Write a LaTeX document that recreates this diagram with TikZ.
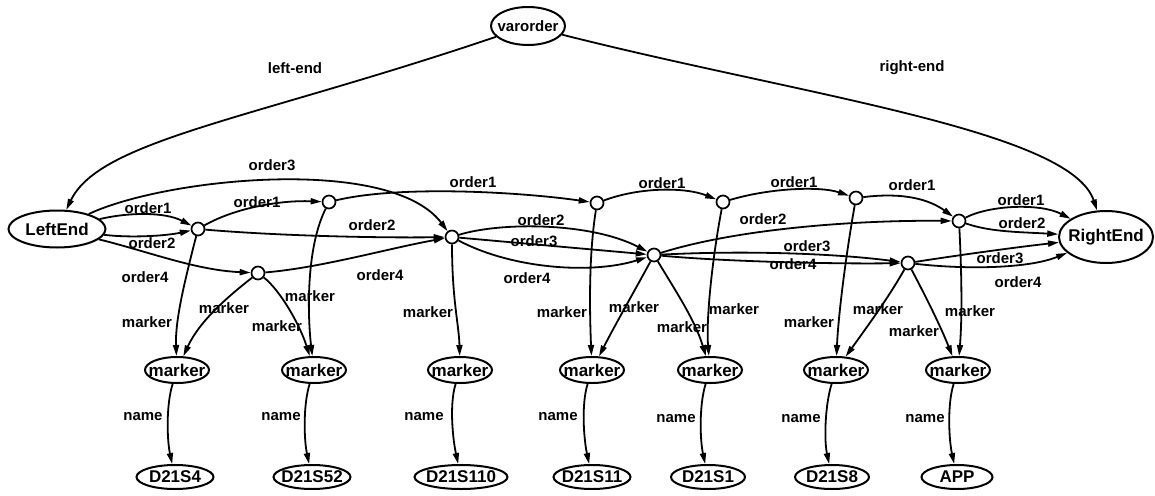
\documentclass[tikz,border=0pt]{standalone}
\usepackage{fontspec}
\setmainfont{Liberation Sans}
\usetikzlibrary{shapes.geometric,arrows.meta}
\newcommand\zbox[1]{\makebox[0pt]{#1}}
\begin{document}
\begin{tikzpicture}[x=1pt,y=-1pt,
  ent/.style={ellipse,draw,line width=2pt,inner sep=0pt,
    font=\bfseries\fontsize{17}{17}\selectfont},
  mk/.style={ent,minimum width=64pt,minimum height=26pt},
  leaf/.style={ent,minimum height=24pt},
  pt/.style={circle,draw,line width=1.7pt,minimum size=13pt,inner sep=0pt},
  lbl/.style={inner sep=0pt,font=\bfseries\fontsize{15}{15}\selectfont},
  arc/.style={line width=1.8pt,-{Triangle[length=11pt,width=6pt]}},
]
\useasboundingbox (0,0) rectangle (1155,495);

% entity nodes
\node[ent,minimum width=74pt,minimum height=38pt,font=\bfseries\fontsize{15}{15}\selectfont] (vo) at (528,26) {\zbox{varorder}};
\node[ent,minimum width=97pt,minimum height=37pt] (le) at (57,229) {\zbox{LeftEnd}};
\node[ent,minimum width=94pt,minimum height=52pt] (re) at (1106,237) {\zbox{RightEnd}};

% ordering points
\node[pt] (c1) at (198,229) {};
\node[pt] (c2) at (329,202) {};
\node[pt] (c3) at (258,273) {};
\node[pt] (c4) at (452,237) {};
\node[pt] (c5) at (597,203) {};
\node[pt] (c6) at (654,255) {};
\node[pt] (c7) at (723,202) {};
\node[pt] (c8) at (856,198) {};
\node[pt] (c9) at (959,221) {};
\node[pt] (c10) at (908,263) {};

% markers
\node[mk] (m1) at (177,370) {\zbox{marker}};
\node[mk] (m2) at (314,370) {\zbox{marker}};
\node[mk] (m3) at (460,370) {\zbox{marker}};
\node[mk] (m4) at (592,370) {\zbox{marker}};
\node[mk] (m5) at (710,370) {\zbox{marker}};
\node[mk] (m6) at (836,370) {\zbox{marker}};
\node[mk] (m7) at (958,370) {\zbox{marker}};

% names
\node[leaf,minimum width=77pt] (d1) at (175,477) {\zbox{D21S4}};
\node[leaf,minimum width=77pt] (d2) at (312,477) {\zbox{D21S52}};
\node[leaf,minimum width=93pt] (d3) at (461,477) {\zbox{D21S110}};
\node[leaf,minimum width=77pt] (d4) at (592,477) {\zbox{D21S11}};
\node[leaf,minimum width=74pt] (d5) at (708,477) {\zbox{D21S1}};
\node[leaf,minimum width=74pt] (d6) at (832,477) {\zbox{D21S8}};
\node[leaf,minimum width=71pt] (d7) at (957,477) {\zbox{APP}};

% top edges
\draw[arc] (vo) .. controls (250,120) and (100,140) .. (le);
\draw[arc] (vo) .. controls (800,95) and (1070,130) .. (re);
\node[lbl] (tl1) at (295,68) {left-end};
\node[lbl] (tl2) at (912,68) {right-end};

% from LeftEnd
\draw[arc] (le) .. controls (130,212) and (165,212) .. (c1);
\draw[arc] (le) .. controls (130,238) and (165,236) .. (c1);
\draw[arc] (le) .. controls (165,178) and (390,155) .. (c4);
\draw[arc] (le) .. controls (150,252) and (195,270) .. (c3);
\node[lbl] (o1) at (148,208) {order1};
\node[lbl] (o2) at (152,243) {order2};
\node[lbl] (o3) at (272,165) {order3};
\node[lbl] (o4) at (145,277) {order4};

% order1 chain
\draw[arc] (c1) .. controls (235,208) and (280,200) .. (c2);
\draw[arc] (c2) .. controls (400,185) and (520,192) .. (c5);
\draw[arc] (c5) .. controls (640,187) and (685,187) .. (c7);
\draw[arc] (c7) .. controls (770,188) and (820,186) .. (c8);
\draw[arc] (c8) .. controls (905,192) and (930,200) .. (c9);
\draw[arc] (c9) .. controls (990,205) and (1040,203) .. (re);
\node[lbl] (o1b) at (257,202) {order1};
\node[lbl] (o1c) at (473,182) {order1};
\node[lbl] (o1d) at (662,183) {order1};
\node[lbl] (o1e) at (794,182) {order1};
\node[lbl] (o1f) at (912,185) {order1};
\node[lbl] (o1g) at (1021,200) {order1};

% order2 chain
\draw[arc] (c1) .. controls (280,236) and (380,238) .. (c4);
\draw[arc] (c4) .. controls (500,222) and (590,222) .. (c6);
\draw[arc] (c6) .. controls (740,228) and (860,220) .. (c9);
\draw[arc] (c9) .. controls (990,232) and (1020,232) .. (re);
\node[lbl] (o2b) at (372,225) {order2};
\node[lbl] (o2c) at (541,220) {order2};
\node[lbl] (o2d) at (763,219) {order2};
\node[lbl] (o2e) at (1022,223) {order2};

% order3 chain
\draw[arc] (c4) -- (c6);
\draw[arc] (c6) .. controls (750,250) and (840,254) .. (c10);
\draw[arc] (c10) .. controls (960,255) and (1010,248) .. (re);
\node[lbl] (o3b) at (534,241) {order3};
\node[lbl] (o3c) at (807,246) {order3};
\node[lbl] (o3d) at (1000,258) {order3};

% order4 chain
\draw[arc] (c3) .. controls (320,268) and (390,248) .. (c4);
\draw[arc] (c4) .. controls (510,268) and (590,275) .. (c6);
\draw[arc] (c6) .. controls (730,262) and (840,264) .. (c10);
\draw[arc] (c10) .. controls (970,270) and (1030,268) .. (re);
\node[lbl] (o4b) at (380,275) {order4};
\node[lbl] (o4c) at (527,278) {order4};
\node[lbl] (o4d) at (793,264) {order4};
\node[lbl] (o4e) at (1018,282) {order4};

% marker edges
\draw[arc] (c1) .. controls (185,280) and (175,320) .. (m1);
\draw[arc] (c3) .. controls (230,295) and (200,320) .. (m1);
\draw[arc] (c2) .. controls (305,250) and (308,320) .. (m2);
\draw[arc] (c3) .. controls (280,290) and (300,325) .. (m2);
\draw[arc] (c4) .. controls (452,300) and (459,325) .. (m3);
\draw[arc] (c5) .. controls (588,260) and (590,320) .. (m4);
\draw[arc] (c6) .. controls (635,290) and (615,325) .. (m4);
\draw[arc] (c6) .. controls (675,290) and (695,320) .. (m5);
\draw[arc] (c7) .. controls (712,260) and (706,320) .. (m5);
\draw[arc] (c8) .. controls (845,260) and (838,320) .. (m6);
\draw[arc] (c10) .. controls (890,295) and (872,320) .. (m6);
\draw[arc] (c10) .. controls (925,295) and (940,325) .. (m7);
\draw[arc] (c9) .. controls (962,280) and (962,320) .. (m7);
\node[lbl] (k1) at (147,322) {marker};
\node[lbl] (k2) at (224,308) {marker};
\node[lbl] (k3) at (310,296) {marker};
\node[lbl] (k4) at (277,326) {marker};
\node[lbl] (k5) at (428,312) {marker};
\node[lbl] (k6) at (562,312) {marker};
\node[lbl] (k7) at (634,307) {marker};
\node[lbl] (k8) at (682,327) {marker};
\node[lbl] (k9) at (734,309) {marker};
\node[lbl] (k10) at (809,322) {marker};
\node[lbl] (k11) at (878,309) {marker};
\node[lbl] (k12) at (914,331) {marker};
\node[lbl] (k13) at (970,311) {marker};

% name edges
\draw[arc] (m1) .. controls (166,405) and (167,440) .. (d1);
\draw[arc] (m2) .. controls (303,405) and (304,440) .. (d2);
\draw[arc] (m3) .. controls (449,405) and (453,440) .. (d3);
\draw[arc] (m4) .. controls (581,405) and (584,440) .. (d4);
\draw[arc] (m5) .. controls (699,405) and (700,440) .. (d5);
\draw[arc] (m6) .. controls (825,405) and (824,440) .. (d6);
\draw[arc] (m7) .. controls (947,405) and (949,440) .. (d7);
\node[lbl] (n1) at (143,417) {name};
\node[lbl] (n2) at (281,417) {name};
\node[lbl] (n3) at (424,417) {name};
\node[lbl] (n4) at (558,417) {name};
\node[lbl] (n5) at (676,419) {name};
\node[lbl] (n6) at (801,419) {name};
\node[lbl] (n7) at (925,419) {name};
\end{tikzpicture}
\end{document}
